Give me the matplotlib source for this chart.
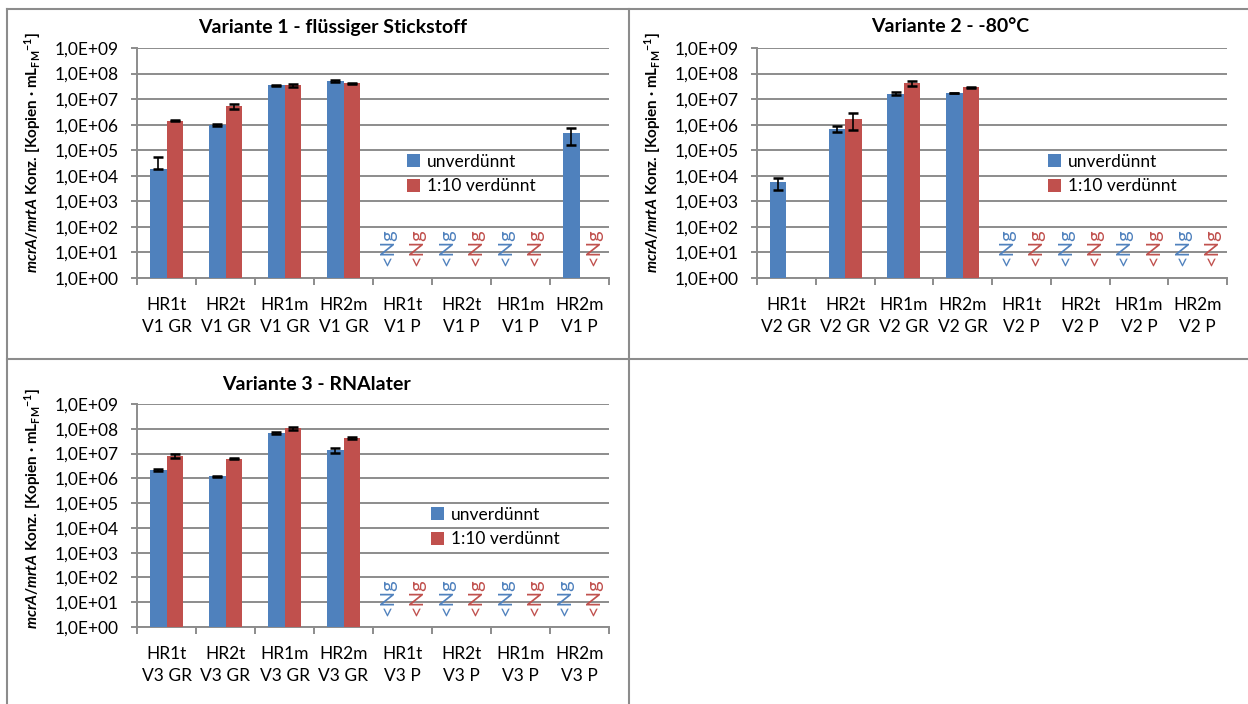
import numpy as np
import matplotlib.pyplot as plt
from matplotlib.patches import Patch
from matplotlib.lines import Line2D
from matplotlib.ticker import FixedLocator, NullLocator

plt.rcParams['font.family'] = ['Lato', 'DejaVu Sans']
plt.rcParams['mathtext.fontset'] = 'custom'
plt.rcParams['mathtext.rm'] = 'Lato:bold'
plt.rcParams['mathtext.it'] = 'Lato:bold:italic'
plt.rcParams['mathtext.bf'] = 'Lato:bold'

# 0 = "<Ng" (nicht nachweisbar), nan = kein Wert
samples = ['HR1t', 'HR2t', 'HR1m', 'HR2m', 'HR1t', 'HR2t', 'HR1m', 'HR2m']
suffix = ['GR', 'GR', 'GR', 'GR', 'P', 'P', 'P', 'P']

titles = ['Variante 1 - flüssiger Stickstoff', 'Variante 2 - -80°C', 'Variante 3 - RNAlater']
variants = ['V1', 'V2', 'V3']

# Variante 1
v1_unv = [1.85e4, 9.7e5, 3.45e7, 5.0e7, 0, 0, 0, 4.6e5]
v1_unv_sd = [3.7e4, 5e4, 1.5e6, 4e6, 0, 0, 0, 3.0e5]
v1_ver = [1.45e6, 5.3e6, 3.5e7, 4.1e7, 0, 0, 0, 0]
v1_ver_sd = [1e5, 1.3e6, 5e6, 3e6, 0, 0, 0, 0]

# Variante 2
v2_unv = [5.7e3, 7.0e5, 1.65e7, 1.75e7, 0, 0, 0, 0]
v2_unv_sd = [2.8e3, 1.9e5, 2.3e6, 6e5, 0, 0, 0, 0]
v2_ver = [np.nan, 1.7e6, 4.2e7, 2.9e7, 0, 0, 0, 0]
v2_ver_sd = [0, 1.1e6, 8e6, 2e6, 0, 0, 0, 0]

# Variante 3
v3_unv = [2.2e6, 1.2e6, 6.7e7, 1.35e7, 0, 0, 0, 0]
v3_unv_sd = [1.5e5, 5e4, 5e6, 2.5e6, 0, 0, 0, 0]
v3_ver = [8.0e6, 6.2e6, 1.05e8, 4.3e7, 0, 0, 0, 0]
v3_ver_sd = [1.2e6, 2e5, 1.6e7, 3e6, 0, 0, 0, 0]

series_names = ['unverdünnt', '1:10 verdünnt']
colors = ['#4F81BD', '#C0504D']
grid_col = '#8C8C8C'

W, H = 1248, 704
fig = plt.figure(figsize=(W / 100, H / 100), dpi=100)


def px_axes(x0, y0, x1, y1):
    return fig.add_axes([x0 / W, 1 - y1 / H, (x1 - x0) / W, (y1 - y0) / H])


def draw_panel(ax, unv, unv_sd, ver, ver_sd, var, leg_anchor):
    x = np.arange(8)
    width = 0.28
    for k, (vals, sd) in enumerate([(unv, unv_sd), (ver, ver_sd)]):
        vals = np.array(vals, dtype=float)
        sd = np.array(sd, dtype=float)
        off = (k - 0.5) * width
        ok = np.nan_to_num(vals) > 0
        ax.bar(x[ok] + off, vals[ok], width, bottom=1, color=colors[k],
               edgecolor='none', zorder=3)
        lo = np.where(sd[ok] < vals[ok], sd[ok], 0)
        ax.errorbar(x[ok] + off, vals[ok], yerr=[lo, sd[ok]], fmt='none',
                    ecolor='black', elinewidth=1.2, capsize=3.8, capthick=1.8,
                    zorder=4)
        for i in np.where(vals == 0)[0]:
            ax.text(i + (k - 0.5) * 0.5, 10 ** 1.22, '<Ng', rotation=90,
                    ha='center', va='center', color=colors[k], fontsize=14.5,
                    zorder=5)
    ax.set_yscale('log')
    ax.set_ylim(1, 1e9)
    ax.set_xlim(-0.5, 7.5)
    ax.yaxis.set_major_locator(FixedLocator([10.0 ** e for e in range(10)]))
    ax.yaxis.set_minor_locator(NullLocator())
    ax.set_yticklabels(['1,0E+%02d' % e for e in range(10)])
    ax.grid(axis='y', color=grid_col, linewidth=1.4, zorder=0)
    ax.set_axisbelow(True)
    for s in ['top', 'right']:
        ax.spines[s].set_visible(False)
    for s in ['left', 'bottom']:
        ax.spines[s].set_color(grid_col)
        ax.spines[s].set_linewidth(1.4)
    ax.tick_params(axis='y', which='major', length=4, width=1.4,
                   color=grid_col, labelsize=12.5, pad=9)
    ax.set_xticks(x)
    ax.set_xticklabels(['%s\n%s %s' % (s, var, g) for s, g in zip(samples, suffix)],
                       fontsize=12.5, linespacing=1.45)
    ax.tick_params(axis='x', which='major', length=0, pad=14)
    ax.set_xticks(np.arange(-0.5, 8, 1), minor=True)
    ax.tick_params(axis='x', which='minor', length=5, width=1.4, color=grid_col)
    handles = [Patch(facecolor=c, edgecolor='none') for c in colors]
    ax.legend(handles, series_names, loc='upper left', bbox_to_anchor=leg_anchor,
              frameon=False, fontsize=12.5, handlelength=0.75, handleheight=0.75,
              handletextpad=0.4, labelspacing=0.5, borderpad=0, borderaxespad=0)


ax1 = px_axes(137, 48, 609, 278)
draw_panel(ax1, v1_unv, v1_unv_sd, v1_ver, v1_ver_sd, variants[0], (0.572, 0.54))
ax2 = px_axes(757, 48, 1227, 278)
draw_panel(ax2, v2_unv, v2_unv_sd, v2_ver, v2_ver_sd, variants[1], (0.62, 0.54))
ax3 = px_axes(137, 404, 609, 627)
draw_panel(ax3, v3_unv, v3_unv_sd, v3_ver, v3_ver_sd, variants[2], (0.622, 0.54))

# Titel
for (cx, cy), t in zip([(333, 28), (950, 26), (316, 385)], titles):
    fig.text(cx / W, 1 - cy / H, t, ha='center', va='center',
             fontsize=14, fontweight='bold')

# y-Achsenbeschriftung
ylab = r'$\mathit{mcrA/mrtA}$ Konz. [Kopien · mL$_{\mathrm{FM}}$$^{\mathrm{-1}}$]'
for cx, cy in [(33, 152), (653, 152), (33, 508)]:
    fig.text(cx / W, 1 - cy / H, ylab, rotation=90, ha='center', va='center',
             fontsize=11, fontweight='bold')

# Rahmen der Diagrammbereiche
frame = dict(color='#8C8C8C', linewidth=1.5)
for xs, ys in [([7, 7], [9, 704]), ([7, 1248], [9, 9]), ([629, 629], [9, 704]),
               ([7, 1248], [359, 359])]:
    fig.add_artist(Line2D([v / W for v in xs], [1 - v / H for v in ys], **frame))

fig.savefig('out.png', dpi=100)
